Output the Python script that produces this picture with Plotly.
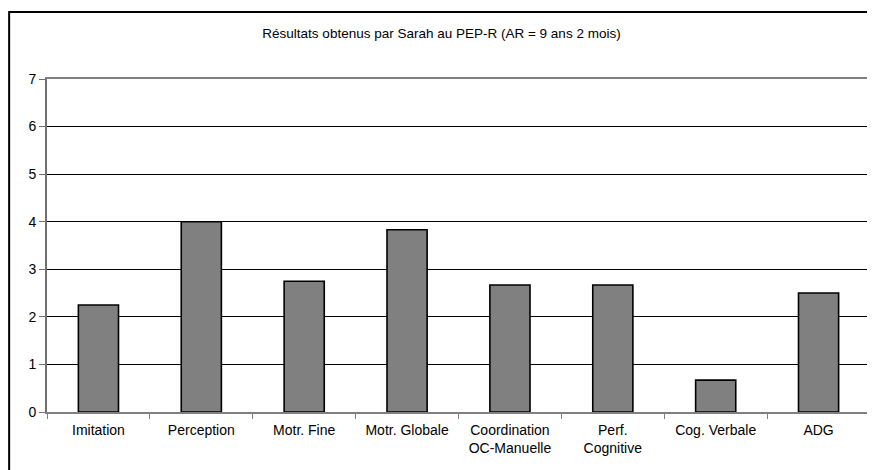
import plotly.graph_objects as go

categories = ["Imitation", "Perception", "Motr. Fine", "Motr. Globale",
              "Coordination<br>OC-Manuelle", "Perf.<br>Cognitive", "Cog. Verbale", "ADG"]
scores = [2.25, 4.0, 2.75, 3.83, 2.67, 2.67, 0.67, 2.5]
y_ticks = [0, 1, 2, 3, 4, 5, 6, 7]

fig = go.Figure()

fig.add_trace(go.Bar(
    x=categories,
    y=scores,
    width=0.39,
    marker=dict(color="#808080", line=dict(color="black", width=1.6)),
))

# page body has an 8px margin, so figure is shrunk to fit the window without scrollbars
fig.update_layout(
    width=867, height=462,
    margin=dict(l=39, r=5, t=71, b=58),
    paper_bgcolor="white",
    plot_bgcolor="white",
    showlegend=False,
    font=dict(family="Liberation Sans, Arial, sans-serif", size=14, color="black"),
    title=dict(text="Résultats obtenus par Sarah au PEP-R (AR = 9 ans 2 mois)",
               x=0.5, xanchor="center", y=0.946, yanchor="middle",
               font=dict(size=13.5)),
)

fig.update_yaxes(
    range=[0, 7], tickvals=y_ticks, automargin=False,
    showgrid=True, gridcolor="black", gridwidth=1.3,
    showline=True, linecolor="#707070", linewidth=2, mirror=True,
    ticks="outside", ticklen=6, tickcolor="#707070",
    zeroline=False, fixedrange=True,
)

fig.update_xaxes(
    tickson="boundaries", automargin=False,
    showline=True, linecolor="#808080", linewidth=1.5, mirror=True,
    ticks="outside", ticklen=5, tickcolor="#808080",
    ticklabelstandoff=4,
    fixedrange=True,
)

# outer chart border
fig.add_shape(type="rect", xref="paper", yref="paper",
              x0=-0.046, x1=1.03, y0=-0.3, y1=1.201,
              line=dict(color="black", width=2), fillcolor="rgba(0,0,0,0)",
              layer="below")

fig.write_html("out.html")
